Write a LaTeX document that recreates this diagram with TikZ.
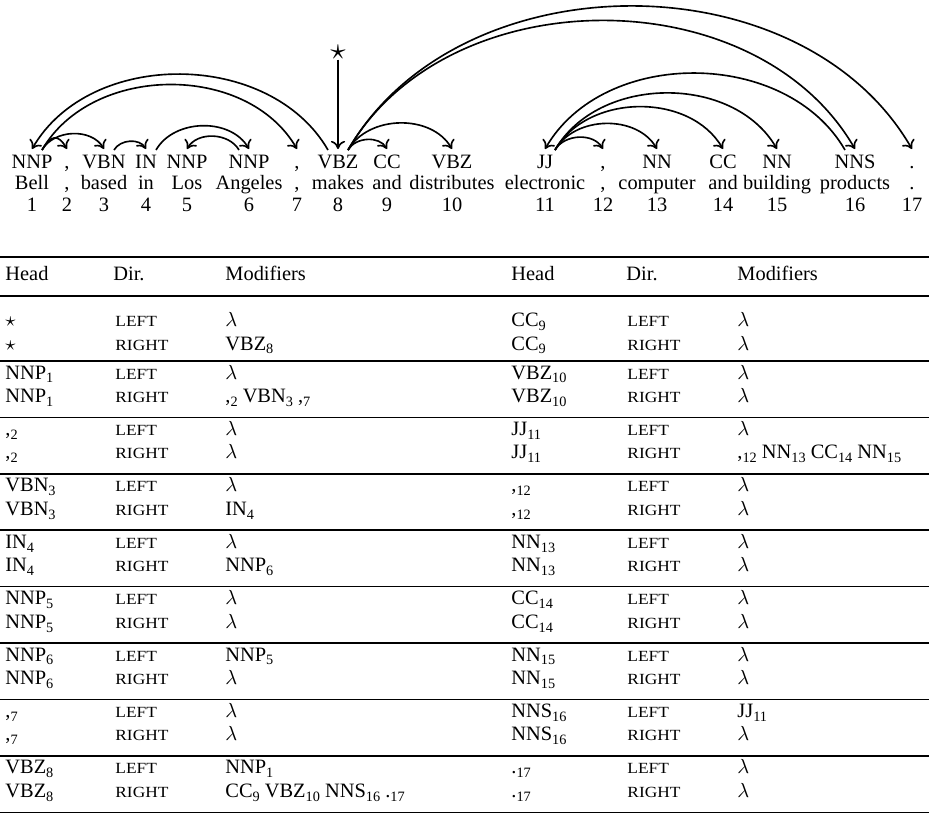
\documentclass[tikz,border=0pt]{standalone}
\usepackage{fontspec}
\usepackage{graphicx}
\setmainfont{Liberation Serif}
\usetikzlibrary{arrows.meta}
\newcommand\ssb[1]{\raisebox{-0.42ex}{\fontsize{7}{7}\selectfont #1}}
\newcommand\cmm[1]{,\ssb{#1}}
\newcommand\cma{,}
\newcommand\lam{$\lambda$}
\newcommand\stt{$\star$}
\newcommand\scp[1]{\scalebox{1.12}[1]{\fontsize{7.6}{9}\selectfont #1}}
\begin{document}
\begin{tikzpicture}[x=0.49pt,y=0.49pt,
  txt/.style={inner sep=0pt,font=\fontsize{10}{12}\selectfont},
  tok/.style={txt,anchor=base},
  cell/.style={txt,anchor=base west},
  dep/.style={-{To[length=4pt,width=7pt]},line width=0.8pt},
  rgt/.style={dep,out=60,in=120},
  lft/.style={dep,out=120,in=60},
  toprl/.style={line width=0.8pt},
  headrl/.style={line width=1.3pt},
  grprl/.style={line width=0.8pt},
  botrl/.style={line width=0.7pt}]
\useasboundingbox (0,0) rectangle (929,-818);

% ---------- sentence ----------
\foreach \x/\p/\w [count=\i] in {32/NNP/Bell, 67/\cma/\cma, 104/VBN/based, 146/IN/in,
  187/NNP/Los, 249/NNP/Angeles, 297/\cma/\cma, 338/VBZ/makes, 387/CC/and,
  452/VBZ/distributes, 545/JJ/electronic, 603/\cma/\cma, 657/NN/computer,
  723/CC/and, 777/NN/building, 855/NNS/products, 912/./.}
{
  \node[tok] (p\i) at (\x,-168) {\p};
  \node[tok] (w\i) at (\x,-189) {\w};
  \node[tok] (n\i) at (\x,-211) {\i};
  \coordinate (c\i) at (\x,-149);
  \coordinate (hr\i) at (\x+10,-150);
  \coordinate (hl\i) at (\x-10,-150);
}
\node[txt] (root) at (338,-52) {\scalebox{1.5}{$\star$}};
\draw[dep] (root.south) -- (c8);

\draw[rgt,looseness=1.8] (hr1) to (c2);
\draw[rgt] (hr1) to (c3);
\draw[rgt] (hr1) to (c7);
\draw[rgt] (hr3) to (c4);
\draw[rgt] (hr4) to (c6);
\draw[lft] (hl6) to (c5);
\draw[lft] (hl8) to (c1);
\draw[rgt] (hr8) to (c9);
\draw[rgt] (hr8) to (c10);
\draw[rgt] (hr8) to (c16);
\draw[rgt] (hr8) to (c17);
\draw[rgt] (hr11) to (c12);
\draw[rgt] (hr11) to (c13);
\draw[rgt] (hr11) to (c14);
\draw[rgt] (hr11) to (c15);
\draw[lft] (hl16) to (c11);

% ---------- table ----------
\draw[toprl] (0,-257) -- (929,-257);
\node[cell] (hh1) at (5,-280) {Head};
\node[cell] (hd1) at (113,-280) {Dir.};
\node[cell] (hm1) at (225,-280) {Modifiers};
\node[cell] (hh2) at (511,-280) {Head};
\node[cell] (hd2) at (626,-280) {Dir.};
\node[cell] (hm2) at (737,-280) {Modifiers};
\draw[headrl] (0,-296) -- (929,-296);

\foreach \yl/\h/\ml/\mr/\hh/\nl/\nr [count=\g] in {
  326.5/\stt/\lam/{VBZ\ssb{8}}/{CC\ssb{9}}/\lam/\lam,
  379/{NNP\ssb{1}}/\lam/{\cmm{2} VBN\ssb{3} \cmm{7}}/{VBZ\ssb{10}}/\lam/\lam,
  435.4/{\cmm{2}}/\lam/\lam/{JJ\ssb{11}}/\lam/{\cmm{12} NN\ssb{13} CC\ssb{14} NN\ssb{15}},
  491.8/{VBN\ssb{3}}/\lam/{IN\ssb{4}}/{\cmm{12}}/\lam/\lam,
  548.2/{IN\ssb{4}}/\lam/{NNP\ssb{6}}/{NN\ssb{13}}/\lam/\lam,
  604.6/{NNP\ssb{5}}/\lam/\lam/{CC\ssb{14}}/\lam/\lam,
  661/{NNP\ssb{6}}/{NNP\ssb{5}}/\lam/{NN\ssb{15}}/\lam/\lam,
  717.4/{\cmm{7}}/\lam/\lam/{NNS\ssb{16}}/{JJ\ssb{11}}/\lam,
  773.8/{VBZ\ssb{8}}/{NNP\ssb{1}}/{CC\ssb{9} VBZ\ssb{10} NNS\ssb{16} .\ssb{17}}/{.\ssb{17}}/\lam/\lam}
{
  \node[cell] (lhA\g) at (5,-\yl) {\h};
  \node[cell] (lhB\g) at (5,-\yl-23.5) {\h};
  \node[cell] (ldA\g) at (115,-\yl) {\scp{LEFT}};
  \node[cell] (ldB\g) at (115,-\yl-23.5) {\scp{RIGHT}};
  \node[cell] (lmA\g) at (225,-\yl) {\ml};
  \node[cell] (lmB\g) at (225,-\yl-23.5) {\mr};
  \node[cell] (rhA\g) at (511,-\yl) {\hh};
  \node[cell] (rhB\g) at (511,-\yl-23.5) {\hh};
  \node[cell] (rdA\g) at (627,-\yl) {\scp{LEFT}};
  \node[cell] (rdB\g) at (627,-\yl-23.5) {\scp{RIGHT}};
  \node[cell] (rmA\g) at (737,-\yl) {\nl};
  \node[cell] (rmB\g) at (737,-\yl-23.5) {\nr};
}
\foreach \r in {361,417.4,473.8,530.2,586.6,643,699.4,755.8}
  \draw[grprl] (0,-\r) -- (929,-\r);
\draw[botrl] (0,-812.2) -- (929,-812.2);
\end{tikzpicture}
\end{document}
